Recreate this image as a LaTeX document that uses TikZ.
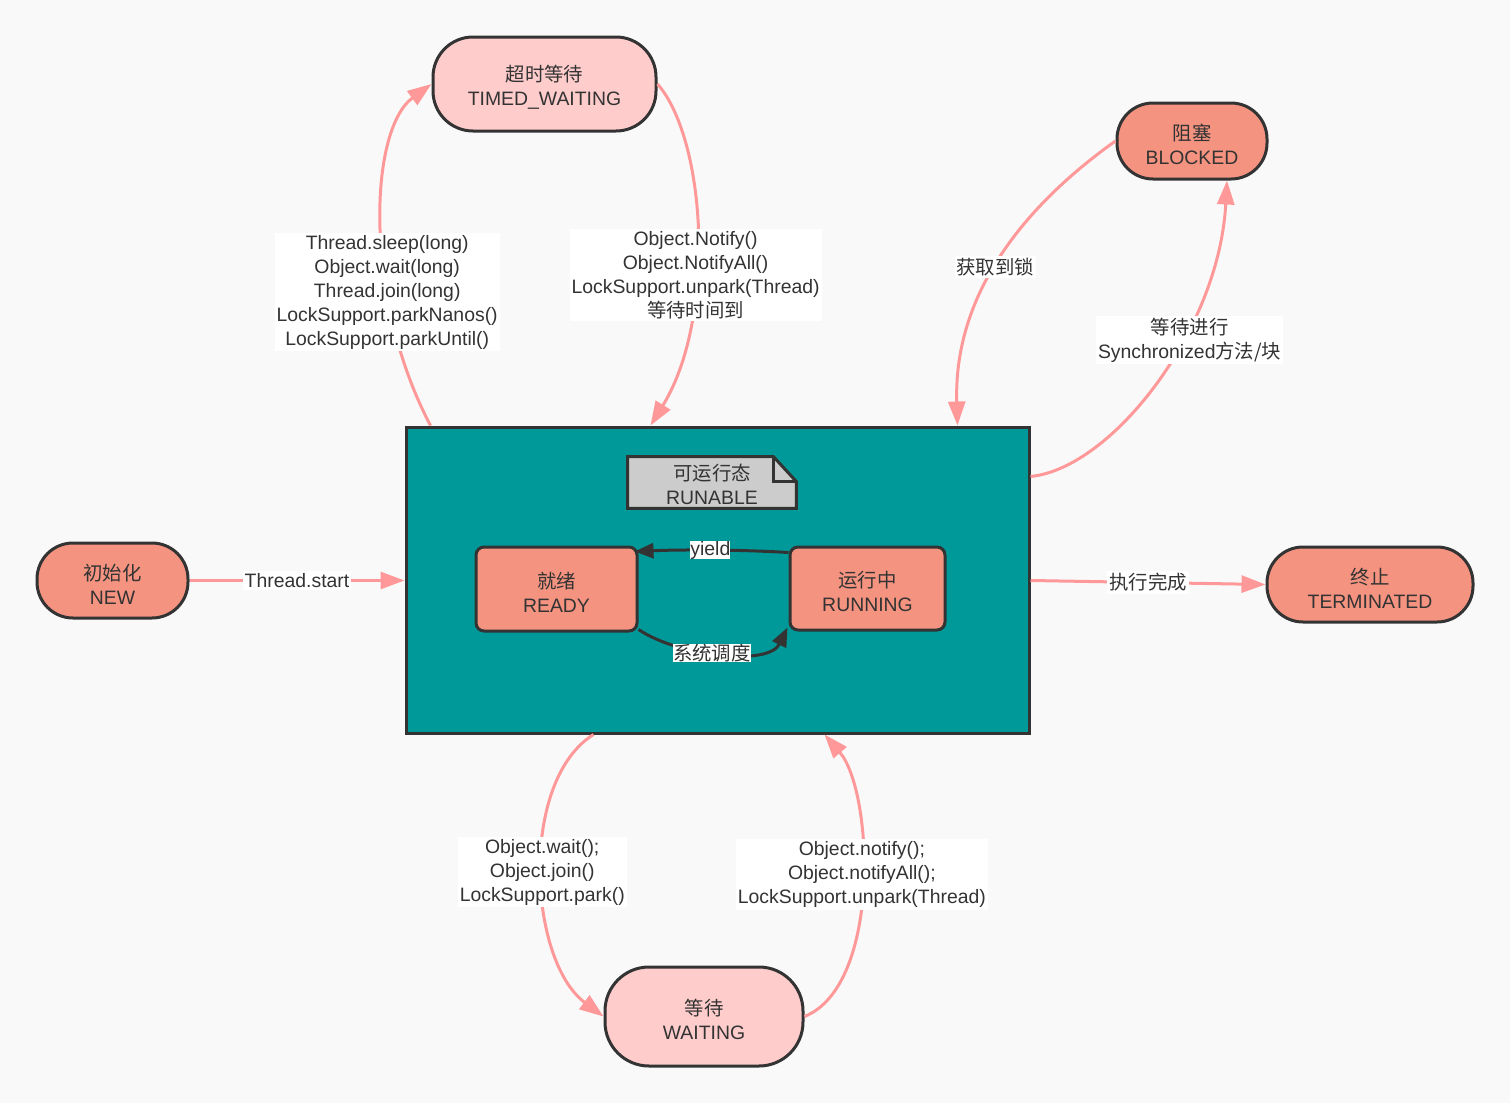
\documentclass[tikz,border=0pt]{standalone}
\usepackage{fontspec}
\setmainfont{Liberation Sans}
\newfontfamily\cjk{Noto Sans CJK SC}
\usetikzlibrary{arrows.meta,calc}
\definecolor{bgc}{HTML}{F9F9F9}
\definecolor{salmonc}{HTML}{F49380}
\definecolor{pinkc}{HTML}{FFCCCC}
\definecolor{tealc}{HTML}{009999}
\definecolor{edgec}{HTML}{FF9999}
\definecolor{inkc}{HTML}{333333}
\definecolor{notec}{HTML}{CCCCCC}
\newcommand{\tstrutx}{\rule{0pt}{11.5pt}}
\begin{document}
\begin{tikzpicture}[x=0.5pt,y=-0.5pt,
  every node/.style={font=\fontsize{9.7}{12}\selectfont, text=inkc},
  stadium/.style={draw=inkc, line width=1.5pt, align=center, inner sep=0pt, rounded corners=20pt},
  boxstate/.style={draw=inkc, line width=1.5pt, align=center, inner sep=0pt, rounded corners=4pt, fill=salmonc},
  pinkedge/.style={draw=edgec, line width=1.5pt, -{Triangle[length=12pt,width=8.5pt]}},
  darkedge/.style={draw=inkc, line width=1.5pt, -{Triangle[length=9.5pt,width=7.5pt]}},
  elabel/.style={fill=white, inner xsep=1pt, inner ysep=1pt, align=center}]
\fill[bgc] (0,0) rectangle (1510,1103);
\useasboundingbox (0,0) rectangle (1510,1103);

% big runnable box
\node[draw=inkc, line width=1.5pt, fill=tealc, minimum width=311.5pt, minimum height=153pt, inner sep=0pt] (R) at (717.5,580) {};

% note
\node[minimum width=84pt, minimum height=25.5pt, inner sep=0pt] (N) at (712,482.5) {};
\filldraw[fill=notec, draw=inkc, line width=1.5pt, line join=miter]
  (N.north west) -- ($(N.north east)+(-23,0)$) -- ($(N.north east)+(0,25)$) -- (N.south east) -- (N.south west) -- cycle;
\draw[draw=inkc, line width=1.5pt] ($(N.north east)+(-23,0)$) -- ($(N.north east)+(-23,25)$) -- ($(N.north east)+(0,25)$);
\node[align=center, inner sep=0pt] (Ntext) at (712,484) {{\cjk 可运行态}\\RUNABLE};

% states
\node[stadium, fill=pinkc, minimum width=111.5pt, minimum height=47pt] (TW) at (544.5,84) {\tstrutx{\cjk 超时等待}\\TIMED\_WAITING};
\node[stadium, fill=salmonc, minimum width=75pt, minimum height=38pt, rounded corners=18pt] (BL) at (1192,141) {\tstrutx{\cjk 阻塞}\\BLOCKED};
\node[stadium, fill=salmonc, minimum width=75.5pt, minimum height=37.5pt, rounded corners=18pt] (NEW) at (112.5,580.5) {\tstrutx{\cjk 初始化}\\NEW};
\node[stadium, fill=salmonc, minimum width=103pt, minimum height=37.5pt, rounded corners=18pt] (TE) at (1370,584.5) {\tstrutx{\cjk 终止}\\TERMINATED};
\node[stadium, fill=pinkc, minimum width=99pt, minimum height=49.5pt, rounded corners=22pt] (WA) at (704,1016.5) {\tstrutx{\cjk 等待}\\WAITING};
\node[boxstate, minimum width=80.5pt, minimum height=42pt] (RE) at (556.5,589) {\tstrutx{\cjk 就绪}\\READY};
\node[boxstate, minimum width=77.5pt, minimum height=41.5pt] (RU) at (867.5,588.5) {\tstrutx{\cjk 运行中}\\RUNNING};

% edges
\draw[pinkedge] (NEW.east) -- (R.west |- NEW.east) node[pos=0.5, elabel] {Thread.start};
\draw[pinkedge] (R.east |- NEW.east) -- (TE.west) node[pos=0.5, elabel] {\cjk 执行完成};

\draw[pinkedge] ($(R.north west)+(26,0)$) .. controls +(-67,-127) and +(-63,46) .. (TW.west)
  node[pos=0.33, elabel] {Thread.sleep(long)\\Object.wait(long)\\Thread.join(long)\\LockSupport.parkNanos()\\LockSupport.parkUntil()};

\draw[pinkedge] (TW.east) .. controls +(49,56) and +(66,-107) .. ($(R.north west)+(246,0)$)
  node[pos=0.6, elabel] {Object.Notify()\\Object.NotifyAll()\\LockSupport.unpark(Thread)\\{\cjk 等待时间到}};

\draw[pinkedge] (BL.west) .. controls +(-97,69) and +(-4,-127) .. ($(R.north west)+(553,0)$)
  node[pos=0.52, elabel] {\cjk 获取到锁};

\draw[pinkedge] ($(R.north east)+(0,51)$) .. controls +(81,-8) and +(-8,150) .. ($(BL.south)+(35,0)$)
  node[pos=0.62, elabel, xshift=4pt] {{\cjk 等待进行}\\Synchronized{\cjk 方法/块}};

\draw[pinkedge] ($(R.south west)+(189,0)$) .. controls +(-75,47) and +(-75,-56) .. (WA.west)
  node[pos=0.5, elabel] {Object.wait();\\Object.join()\\LockSupport.park()};

\draw[pinkedge] (WA.east) .. controls +(77,-31) and +(49,57) .. ($(R.south west)+(420,0)$)
  node[pos=0.53, elabel] {Object.notify();\\Object.notifyAll();\\LockSupport.unpark(Thread)};

\draw[darkedge] ($(RU.north west)+(0,7)$) .. controls +(-50,-3) and +(47,-2) .. ($(RE.north east)+(-4,6)$)
  node[pos=0.5, elabel, inner xsep=0pt, inner ysep=0pt] {yield};

\draw[darkedge] ($(RE.south east)+(0,-3)$) .. controls +(40,27) and +(-19,39) .. ($(RU.south west)+(-1,-4)$)
  node[pos=0.45, elabel, inner xsep=0pt, inner ysep=0pt] {\cjk 系统调度};
\end{tikzpicture}
\end{document}
